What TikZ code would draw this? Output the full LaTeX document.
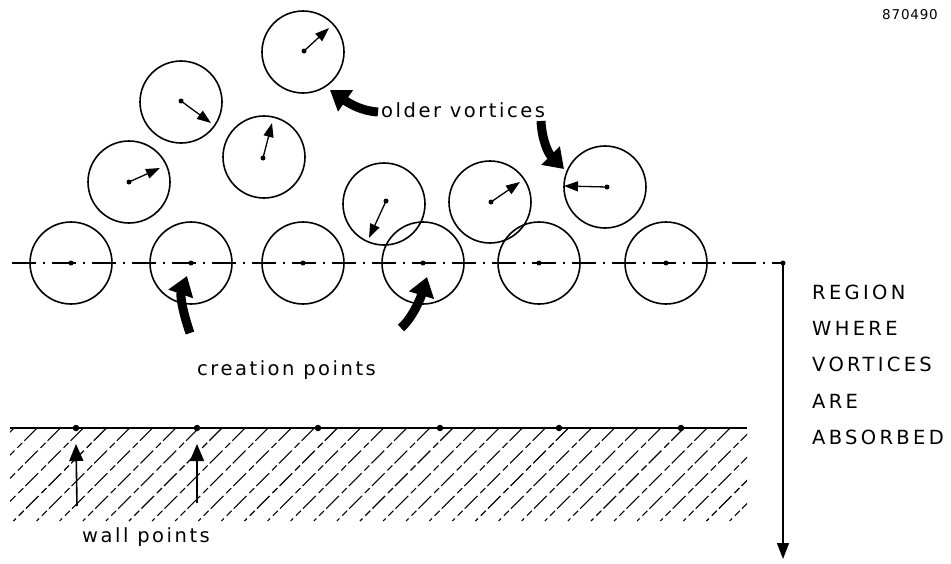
\documentclass[tikz,border=0pt]{standalone}
\usepackage{fontspec}
\setmainfont{DejaVu Sans}
\newfontfamily\lettering[LetterSpace=13]{DejaVu Sans}
\newfontfamily\capsletter[LetterSpace=17]{DejaVu Sans}
\newfontfamily\numletter[LetterSpace=6]{DejaVu Sans}
\usetikzlibrary{arrows.meta}

\begin{document}
\begin{tikzpicture}[x=1pt,y=-1pt,
  vortex/.style={circle,draw,line width=1.6pt,minimum size=82pt,inner sep=0pt},
  core/.style={circle,fill,inner sep=0pt,minimum size=5pt},
  walldot/.style={circle,fill,inner sep=0pt,minimum size=6.5pt},
  spin/.style={line width=1.3pt,-{Triangle[length=14pt,width=10pt]}},
  bigarrow/.style={line width=9pt,-{Triangle[length=19pt,width=25pt]}},
  pointer/.style={line width=1.6pt,-{Triangle[length=17pt,width=14pt]}},
  centerline/.style={line width=1.3pt,dash pattern=on 24pt off 7pt on 2pt off 7pt},
  hatchline/.style={line width=1.1pt,dash pattern=on 18pt off 3pt on 7pt off 4pt},
  label/.style={font=\lettering\fontsize{19.5}{23}\selectfont,inner sep=0pt},
  caplabel/.style={font=\capsletter\fontsize{19.5}{23}\selectfont,inner sep=0pt,anchor=base west},
]
\useasboundingbox (0,0) rectangle (951,563);

% figure number
\node[font=\numletter\fontsize{13.5}{16}\selectfont,inner sep=0pt] (fignum) at (910,15) {870490};

% creation line and the absorption region marker
\coordinate (lstart) at (12,263);
\coordinate (corner) at (783,263);
\coordinate (rend) at (783,559);
\draw[centerline] (lstart) -- (corner);
\node[core] (cornerdot) at (corner) {};
\draw[line width=1.4pt,-{Triangle[length=16pt,width=12pt]}] (corner) -- (rend);

% vortices at the creation points
\foreach \n/\x in {1/71,2/191,3/303,4/423,5/539,6/666}{
  \node[vortex] (b\n) at (\x,263) {};
  \node[core] (bc\n) at (\x,263) {};
}

% older vortices with their velocity arrows
\node[vortex] (u1) at (129,182) {};
\node[core] (uc1) at (129,182) {};
\coordinate (ut1) at (160,168);

\node[vortex] (u2) at (181,102) {};
\node[core] (uc2) at (181,101) {};
\coordinate (ut2) at (211,123);

\node[vortex] (u3) at (264,157) {};
\node[core] (uc3) at (263,158) {};
\coordinate (ut3) at (272,123);

\node[vortex] (u4) at (303,52) {};
\node[core] (uc4) at (304,51) {};
\coordinate (ut4) at (329,28);

\node[vortex] (u5) at (384,204) {};
\node[core] (uc5) at (386,201) {};
\coordinate (ut5) at (369,238);

\node[vortex] (u6) at (490,202) {};
\node[core] (uc6) at (491,202) {};
\coordinate (ut6) at (520,182);

\node[vortex] (u7) at (605,187) {};
\node[core] (uc7) at (607,187) {};
\coordinate (ut7) at (564,186);

\foreach \n in {1,...,7}{
  \draw[spin] (uc\n.center) -- (ut\n);
}

% labels
\node[label,anchor=base west] (older) at (381,117) {older vortices};
\node[label,anchor=base west] (creation) at (197,375) {creation points};
\node[label,anchor=base west] (wall) at (82,542) {wall points};

\node[caplabel] (r1) at (812,299) {REGION};
\node[caplabel] (r2) at (812,335) {WHERE};
\node[caplabel] (r3) at (812,371) {VORTICES};
\node[caplabel] (r4) at (812,408) {ARE};
\node[caplabel] (r5) at (812,444) {ABSORBED};

% heavy pointers
\coordinate (p1a) at (378,112);
\coordinate (p1b) at (330,90);
\draw[bigarrow] (p1a) .. controls (362,111) and (350,104) .. (p1b);

\coordinate (p2a) at (541,121);
\coordinate (p2b) at (564,169);
\draw[bigarrow] (p2a) .. controls (542,140) and (548,153) .. (p2b);

\coordinate (p3a) at (190,333);
\coordinate (p3b) at (187,276);
\draw[bigarrow] (p3a) .. controls (183,313) and (180,296) .. (p3b);

\coordinate (p4a) at (401,328);
\coordinate (p4b) at (427,277);
\draw[bigarrow] (p4a) .. controls (412,318) and (420,300) .. (p4b);

% wall with hatching
\begin{scope}
  \clip (10,429) rectangle (747,521);
  \foreach \x in {-9,14.1,...,840}{
    \draw[hatchline] (\x,428) -- ++(-93,93);
  }
\end{scope}
\coordinate (wl) at (10,428);
\coordinate (wr) at (747,428);
\draw[line width=1.5pt] (wl) -- (wr);
\foreach \n/\x in {1/76,2/197,3/318,4/440,5/559,6/681}{
  \node[walldot] (w\n) at (\x,428) {};
}
\coordinate (wa1) at (77,506);
\coordinate (wa2) at (197,503);
\draw[pointer] (wa1) -- ([yshift=-16pt]w1.center);
\draw[pointer] (wa2) -- ([yshift=-16pt]w2.center);
\end{tikzpicture}
\end{document}
